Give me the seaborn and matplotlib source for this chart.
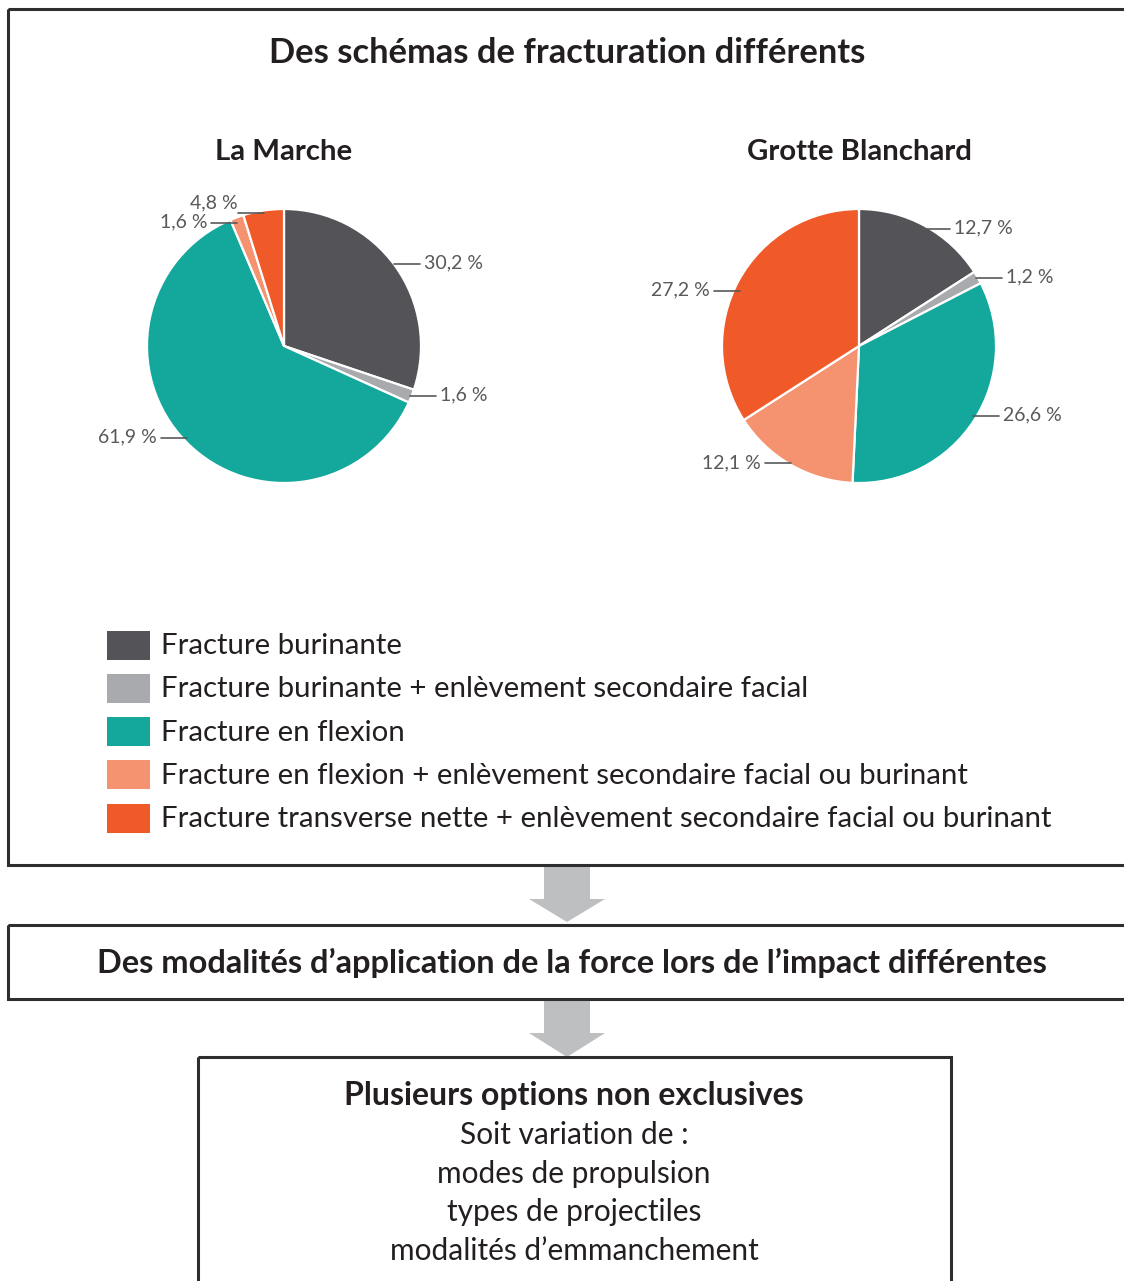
import numpy as np
import matplotlib
matplotlib.use("Agg")
import matplotlib.pyplot as plt
from matplotlib.patches import Rectangle, Polygon
import seaborn as sns

# ---- data -------------------------------------------------------------
categories = [
    "Fracture burinante",
    "Fracture burinante + enlèvement secondaire facial",
    "Fracture en flexion",
    "Fracture en flexion + enlèvement secondaire facial ou burinant",
    "Fracture transverse nette + enlèvement secondaire facial ou burinant",
]
sites = ["La Marche", "Grotte Blanchard"]
la_marche = [30.2, 1.6, 61.9, 1.6, 4.8]
grotte_blanchard = [12.7, 1.2, 26.6, 12.1, 27.2]

title_top = "Des schémas de fracturation différents"
title_mid = "Des modalités d’application de la force lors de l’impact différentes"
title_bottom = "Plusieurs options non exclusives"
options_lines = ["Soit variation de :", "modes de propulsion",
                 "types de projectiles", "modalités d’emmanchement"]

# ---- style ------------------------------------------------------------
sns.set_theme(style="white")
plt.rcParams["font.family"] = ["Lato", "DejaVu Sans"]
palette = sns.color_palette(["#545458", "#A9AAAD", "#14A89C", "#F5926F", "#F05A29"])
TXT = "#231F20"
LBL = "#58595B"
EDGE = "#2E2E30"
ARROW = "#BEBFC1"

W, H = 1124, 1281
fig = plt.figure(figsize=(W / 100, H / 100), dpi=100)
fig.patch.set_facecolor("white")

# overlay axes in pixel coordinates (y grows downward), drawn above the pies
bg = fig.add_axes([0, 0, 1, 1])
bg.set_xlim(0, W)
bg.set_ylim(H, 0)
bg.axis("off")
bg.set_zorder(5)

# ---- boxes and arrows -------------------------------------------------
def box(x0, y0, x1, y1):
    bg.add_patch(Rectangle((x0, y0), x1 - x0, y1 - y0, fill=False,
                           edgecolor=EDGE, lw=2.2, zorder=2))

box(8, 9, 1160, 865)
box(8, 925, 1160, 999)
box(198, 1057, 951, 1320)

def arrow(y_top, y_head, y_tip, cx=567):
    shaft_hw, head_hw = 23, 38
    pts = [(cx - shaft_hw, y_top), (cx + shaft_hw, y_top), (cx + shaft_hw, y_head),
           (cx + head_hw, y_head), (cx, y_tip), (cx - head_hw, y_head),
           (cx - shaft_hw, y_head)]
    bg.add_patch(Polygon(pts, closed=True, facecolor=ARROW, edgecolor="none", zorder=1))

arrow(866, 899, 922)
arrow(1000, 1033, 1057)

# ---- texts ------------------------------------------------------------
bg.text(567, 53, title_top, ha="center", va="center", fontsize=24.8,
        fontweight="bold", color=TXT)
bg.text(572, 963, title_mid, ha="center", va="center", fontsize=23.4,
        fontweight="bold", color=TXT)
bg.text(574, 1095, title_bottom, ha="center", va="center", fontsize=23,
        fontweight="bold", color=TXT)
for i, line in enumerate(options_lines):
    bg.text(574, 1135 + i * 38.5, line, ha="center", va="center",
            fontsize=21.5, color=TXT)

# ---- pies -------------------------------------------------------------
R = 137
# per label: side of the leader, vertical shift of the leader, extra shift of the text
pie_specs = [
    (sites[0], la_marche, (284, 346),
     ["right", "right", "left", "left", "left"],
     [-3, 0, -3, 4, 1], [0, 0, 0, 0, -9]),
    (sites[1], grotte_blanchard, (859, 346),
     ["right", "right", "right", "left", "left"],
     [2, 0, -3, 0, 10], [0, 0, 0, 0, 0]),
]

for name, values, (cx, cy), sides, dy, ty in pie_specs:
    ax = fig.add_axes([(cx - R) / W, 1 - (cy + R) / H, 2 * R / W, 2 * R / H])
    ax.set_zorder(1)
    wedges, _ = ax.pie(values, colors=palette, startangle=90, counterclock=False,
                       radius=1.0,
                       wedgeprops=dict(edgecolor="white", linewidth=1.6))
    ax.set_xlim(-1, 1)
    ax.set_ylim(-1, 1)
    ax.set_aspect("equal")
    ax.axis("off")
    bg.text(cx, 152, name, ha="center", va="center", fontsize=21.2,
            fontweight="bold", color=TXT)

    total = sum(values)
    cum = 0.0
    for v, side, off, toff in zip(values, sides, dy, ty):
        mid = np.deg2rad(90 - (cum + v / 2) / total * 360)
        cum += v
        rx = cx + 0.99 * R * np.cos(mid)
        ry = cy - 0.99 * R * np.sin(mid) + off
        length = 26
        ex = rx + length if side == "right" else rx - length
        bg.plot([rx, ex], [ry, ry], color=LBL, lw=1.2, zorder=5)
        label = f"{v:.1f}".replace(".", ",") + " %"
        if side == "right":
            bg.text(ex + 4, ry - 1 + toff, label, ha="left", va="center",
                    fontsize=14, color=LBL, zorder=5)
        else:
            gap = 0 if toff else 4
            bg.text(ex - gap, ry - 1 + toff, label, ha="right", va="center",
                    fontsize=14, color=LBL, zorder=5)

# ---- legend -----------------------------------------------------------
for i, (cat, col) in enumerate(zip(categories, palette)):
    yc = 645 + i * 43.3
    bg.add_patch(Rectangle((107, yc - 14.5), 43, 29, facecolor=col,
                           edgecolor="none", zorder=3))
    bg.text(161, yc + 1, cat, ha="left", va="center", fontsize=21.2, color=TXT)

fig.savefig("out.png", dpi=100, facecolor="white")
